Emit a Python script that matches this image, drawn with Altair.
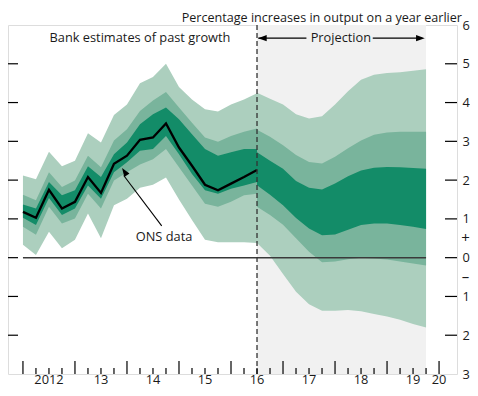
import altair as alt
import pandas as pd

# ---------------- data (quarter index t: 0 = start of 2012) ----------------
t_hist = list(range(0, 19))
t_proj = list(range(18, 32))

ons = [1.18, 1.03, 1.75, 1.27, 1.44, 2.08, 1.67, 2.42, 2.63, 3.04, 3.10, 3.46, 2.84, 2.37, 1.88, 1.74, 1.91, 2.08, 2.26]

h_light_top = [2.12, 2.02, 2.73, 2.36, 2.50, 3.21, 2.97, 3.68, 3.95, 4.50, 4.66, 5.00, 4.40, 4.08, 3.83, 3.77, 3.95, 4.08, 4.24]
h_mid_top   = [1.62, 1.48, 2.20, 1.82, 1.99, 2.63, 2.33, 3.02, 3.31, 3.78, 4.05, 4.27, 3.87, 3.48, 3.10, 2.99, 3.14, 3.25, 3.33]
h_dark_top  = [1.37, 1.27, 1.95, 1.61, 1.74, 2.36, 2.08, 2.67, 2.97, 3.44, 3.70, 3.87, 3.57, 3.18, 2.80, 2.63, 2.72, 2.80, 2.80]
h_dark_bot  = [1.03, 0.84, 1.54, 1.10, 1.27, 1.86, 1.52, 2.20, 2.46, 2.76, 2.80, 3.14, 2.67, 2.16, 1.74, 1.65, 1.78, 1.86, 1.95]
h_mid_bot   = [0.80, 0.59, 1.31, 0.88, 1.01, 1.65, 1.27, 1.99, 2.20, 2.40, 2.54, 2.80, 2.33, 1.86, 1.39, 1.31, 1.44, 1.61, 1.65]
h_light_bot = [0.33, 0.07, 0.67, 0.24, 0.46, 1.14, 0.50, 1.35, 1.52, 1.80, 1.88, 2.07, 1.50, 0.97, 0.46, 0.40, 0.40, 0.40, 0.38]

p_light_top = [4.25, 4.10, 3.95, 3.70, 3.59, 3.65, 3.95, 4.29, 4.59, 4.72, 4.76, 4.78, 4.82, 4.86]
p_mid_top   = [3.30, 3.12, 2.90, 2.65, 2.47, 2.43, 2.60, 2.82, 3.02, 3.17, 3.23, 3.25, 3.25, 3.25]
p_dark_top  = [2.72, 2.50, 2.29, 1.98, 1.80, 1.76, 1.91, 2.10, 2.25, 2.32, 2.34, 2.33, 2.31, 2.29]
p_dark_bot  = [1.87, 1.62, 1.35, 1.02, 0.75, 0.58, 0.60, 0.72, 0.84, 0.88, 0.88, 0.84, 0.80, 0.74]
p_mid_bot   = [1.31, 1.10, 0.85, 0.50, 0.15, -0.12, -0.10, -0.04, 0.00, -0.02, -0.05, -0.10, -0.15, -0.20]
p_light_bot = [0.38, 0.05, -0.42, -0.88, -1.20, -1.37, -1.37, -1.35, -1.38, -1.45, -1.52, -1.60, -1.71, -1.80]

year_pos = [2, 6, 10, 14, 18, 22, 26, 30, 32]
year_labels = ["2012", "13", "14", "15", "16", "17", "18", "19", "20"]
major_ticks = [0, 4, 8, 12, 16, 20, 24, 28, 32]
minor_ticks = [t for t in range(0, 33) if t % 4 != 0]
y_ticks = [-2, -1, 0, 1, 2, 3, 4, 5]
projection_start = 18
projection_end = 31

# ---------------- styling ----------------
W, H = 449, 349
FONT = "Open Sans"
FS = 12.8
DARK, MID, LIGHT, GREY = "#138c68", "#79b49c", "#accfbe", "#f1f1f1"
TXT = "#1a1a1a"
ANN_Y = 5.66

xs = alt.Scale(domain=[-1.15, 33.38], nice=False, zero=False)
ys = alt.Scale(domain=[-3, 6], nice=False, zero=False)
yaxis = alt.Axis(orient="right", values=list(range(-3, 7)), labelExpr="abs(datum.value)",
                 ticks=False, domain=False, grid=False, labelPadding=5, labelFont=FONT,
                 labelFontSize=FS, labelColor=TXT, labelAlign="left", labelBaseline="middle",
                 title=None)


def X(f):
    return alt.X(f, type="quantitative", scale=xs, axis=None, title=None)


def Y(f):
    return alt.Y(f, type="quantitative", scale=ys, axis=yaxis, title=None)


def band(lo_h, hi_h, lo_p, hi_p):
    a = pd.DataFrame({"t": t_hist, "lo": lo_h, "hi": hi_h, "seg": "hist"})
    b = pd.DataFrame({"t": t_proj, "lo": lo_p, "hi": hi_p, "seg": "proj"})
    return pd.concat([a, b], ignore_index=True)


grey = alt.Chart(pd.DataFrame({"a": [projection_start], "b": [projection_end], "y0": [-3], "y1": [6]})).mark_rect(
    color=GREY).encode(x=X("a"), x2="b", y=Y("y0"), y2="y1")

layers = [grey]
for (lh, hh, lp, hp), col in [((h_light_bot, h_light_top, p_light_bot, p_light_top), LIGHT),
                              ((h_mid_bot, h_mid_top, p_mid_bot, p_mid_top), MID),
                              ((h_dark_bot, h_dark_top, p_dark_bot, p_dark_top), DARK)]:
    layers.append(alt.Chart(band(lh, hh, lp, hp)).mark_area(color=col, opacity=1, interpolate="linear").encode(
        x=X("t"), y=Y("lo"), y2="hi", detail="seg:N"))

zero = alt.Chart(pd.DataFrame({"a": [0], "b": [projection_end], "v": [0]})).mark_rule(
    color="#3a3a3a", strokeWidth=1.5).encode(x=X("a"), x2="b", y=Y("v"))

line = alt.Chart(pd.DataFrame({"t": t_hist, "v": ons})).mark_line(
    color="black", strokeWidth=2.3, strokeJoin="miter").encode(x=X("t"), y=Y("v"))

dash = alt.Chart(pd.DataFrame({"t": [projection_start], "a": [-3], "b": [6]})).mark_rule(
    color="#333", strokeWidth=1.3, strokeDash=[5, 3]).encode(x=X("t"), y=Y("a"), y2="b")

yt = pd.DataFrame({"v": y_ticks})
lt = alt.Chart(yt).mark_rule(color="black", strokeWidth=1.2).encode(
    y=Y("v"), x=alt.value(0), x2=alt.value(10))
rt = alt.Chart(yt).mark_rule(color="black", strokeWidth=1.2).encode(
    y=Y("v"), x=alt.value(W - 12), x2=alt.value(W))
mjt = alt.Chart(pd.DataFrame({"t": major_ticks})).mark_rule(color="black", strokeWidth=1.2).encode(
    x=X("t"), y=alt.value(H), y2=alt.value(H - 13))
mnt = alt.Chart(pd.DataFrame({"t": minor_ticks})).mark_rule(color="black", strokeWidth=1.2).encode(
    x=X("t"), y=alt.value(H), y2=alt.value(H - 6))

xl = alt.Chart(pd.DataFrame({"t": year_pos, "lab": year_labels})).mark_text(
    font=FONT, fontSize=FS, color=TXT, baseline="alphabetic").encode(
    x=X("t"), y=alt.value(H + 10), text="lab:N")

signs = alt.Chart(pd.DataFrame({"v": [0.5, -0.5], "s": ["+", "\u2013"]})).mark_text(
    font=FONT, fontSize=15, color=TXT, align="center", baseline="middle").encode(
    y=Y("v"), x=alt.value(W + 8.5), text="s:N")

title = alt.Chart(pd.DataFrame({"s": ["Percentage increases in output on a year earlier"]})).mark_text(
    font=FONT, fontSize=12.6, color=TXT, align="right", baseline="alphabetic").encode(
    x=alt.value(454), y=alt.value(-3), text="s:N")

ann = pd.DataFrame({"t": [9.0, 24.45], "v": [ANN_Y, ANN_Y], "s": ["Bank estimates of past growth", "Projection"]})
annot = alt.Chart(ann).mark_text(font=FONT, fontSize=FS, color=TXT, align="center", baseline="middle").encode(
    x=X("t"), y=Y("v"), text="s:N")

arr_lines = pd.DataFrame({"a": [18.1, 26.9], "b": [21.8, 30.7], "v": [ANN_Y, ANN_Y]})
arrl = alt.Chart(arr_lines).mark_rule(color="black", strokeWidth=1.2).encode(x=X("a"), x2="b", y=Y("v"))

HEAD = "M0,0L-1,-0.36L-1,0.36Z"
heads = pd.DataFrame({"t": [18.08, 30.9, 7.62], "v": [ANN_Y, ANN_Y, 2.31], "ang": [180, 0, 236]})
arrh = alt.Chart(heads).mark_point(shape=HEAD, filled=True, color="black", opacity=1, size=300).encode(
    x=X("t"), y=Y("v"), angle=alt.Angle("ang:Q", scale=None))

ons_ptr = alt.Chart(pd.DataFrame({"a": [10.67], "b": [7.75], "v1": [0.82], "v2": [2.12]})).mark_rule(
    color="black", strokeWidth=1.1).encode(x=X("a"), x2="b", y=Y("v1"), y2="v2")
ons_lab = alt.Chart(pd.DataFrame({"t": [10.85], "v": [0.53], "s": ["ONS data"]})).mark_text(
    font=FONT, fontSize=FS, color=TXT, align="center", baseline="middle").encode(
    x=X("t"), y=Y("v"), text="s:N")

chart = alt.layer(*layers, zero, line, dash, lt, rt, mjt, mnt, xl, signs, title, annot, arrl, arrh,
                  ons_ptr, ons_lab).properties(
    width=W, height=H, padding={"left": 0, "top": 17, "right": 13, "bottom": 14},
    autosize=alt.AutoSizeParams(type="none")
).configure_view(stroke="black", strokeWidth=1.3).configure(background="white")

chart.save("out.html", embed_options={"renderer": "svg", "actions": False})
